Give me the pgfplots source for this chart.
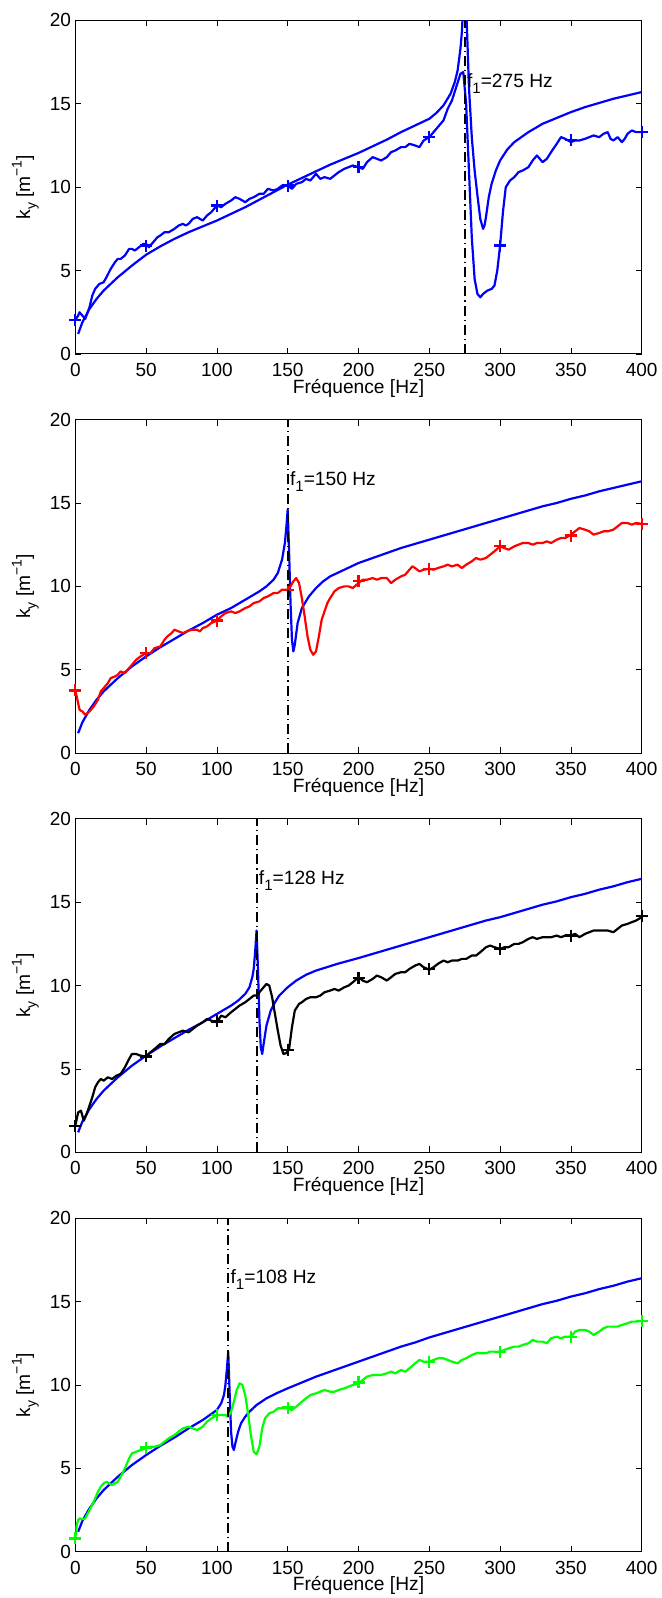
\documentclass[border=0pt]{standalone}
\usepackage{fontspec}
\setmainfont{Liberation Sans}
\usepackage{pgfplots}
\pgfplotsset{compat=1.18}

\pgfplotsset{
  myax/.style={
    scale only axis,
    width=283.2pt, height=166.8pt,
    anchor=south west,
    xmin=0, xmax=400, ymin=0, ymax=20,
    xtick={0,50,...,400}, ytick={0,5,...,20},
    tick align=inside,
    major tick length=3pt,
    every tick/.style={black, line width=0.4pt},
    axis line style={line width=0.5pt},
    /pgf/number format/assume math mode=true,
    tick label style={font=\fontsize{9.5}{11}\selectfont},
    xticklabel style={anchor=center, yshift=-7.9pt},
    yticklabel style={anchor=east, inner sep=2pt},
    label style={font=\fontsize{9.6}{11}\selectfont},
    xlabel={Fréquence [Hz]},
    ylabel={k\raisebox{-0.55ex}{\fontsize{7}{8}\selectfont y} [m\raisebox{0.85ex}{\fontsize{7}{8}\selectfont −1}]},
    xlabel style={at={([yshift=-17pt]axis description cs:0.5,0)}, anchor=center},
    ylabel style={at={([xshift=-25pt]axis description cs:0,0.5)}, anchor=center},
    clip mode=individual,
  },
  model/.style={blue, line width=1.1pt, no markers, line join=round},
  meas/.style={line width=1.1pt, no markers, line join=round},
  pts/.style={only marks, mark=+, mark size=3pt, line width=1.1pt, clip=false},
  vline/.style={black, line width=1pt, dash pattern=on 5pt off 2pt on 0.6pt off 2pt, no markers},
}
\newcommand{\fone}[1]{f\raisebox{-0.6ex}{\fontsize{7.5}{8}\selectfont 1}=#1 Hz}

\begin{document}
\begin{tikzpicture}
\useasboundingbox (0,0) rectangle (331pt,799pt);

%================ Panel 1 ================
\begin{axis}[myax, at={(37.65pt,622.0pt)}]
\addplot[model] coordinates {
(2,1.2) (5,1.9) (10,2.7) (15,3.3) (20,3.8) (30,4.6) (40,5.3) (50,5.95) (60,6.45) (70,6.9)
(80,7.3) (90,7.65) (100,8.0) (110,8.4) (120,8.8) (130,9.25) (140,9.7) (150,10.15) (160,10.55)
(170,10.95) (180,11.35) (190,11.7) (200,12.05) (210,12.45) (220,12.85) (230,13.3) (240,13.7)
(250,14.1) (255,14.45) (260,14.9) (265,15.6) (268,16.3) (270,17.0) (272,18.3) (273,19.3) (274,21) (275,24)
(276,21) (278,16) (280,13) (282,11) (284,9.5) (286,8.1) (288,7.5) (289,7.7) (290,8.2) (292,9.4)
(294,10.2) (297,11.0) (300,11.6) (305,12.25) (310,12.7) (315,13.0) (320,13.3) (330,13.8) (340,14.15)
(350,14.5) (360,14.8) (370,15.05) (380,15.3) (390,15.5) (400,15.7)
};
\addplot[meas, blue] coordinates {
(0,2.05) (2,2.3) (3,2.5) (5,2.3) (7,2.1) (10,2.8) (12,3.5) (14,3.9) (17,4.2) (20,4.3) (22,4.6)
(25,5.1) (28,5.5) (30,5.7) (32,5.7) (35,5.9) (38,6.3) (40,6.3) (42,6.2) (45,6.4) (48,6.6) (50,6.6)
(52,6.4) (55,6.7) (58,7.0) (60,7.1) (63,7.3) (66,7.3) (70,7.5) (73,7.7) (76,7.8) (78,7.7) (80,7.8)
(83,8.1) (86,8.2) (88,8.1) (90,8.0) (93,8.3) (96,8.5) (100,8.9) (103,8.8) (106,9.0) (110,9.2)
(113,9.4) (116,9.3) (120,9.1) (123,9.3) (126,9.4) (130,9.6) (133,9.6) (136,9.9) (140,9.8) (143,9.9)
(146,10.1) (150,10.1) (153,9.9) (156,10.2) (160,10.3) (163,10.5) (166,10.4) (170,10.8) (173,10.5)
(176,10.6) (180,10.5) (183,10.7) (186,10.9) (190,11.1) (193,11.2) (196,11.3) (200,11.2) (203,11.1)
(206,11.5) (210,11.8) (213,11.7) (216,11.6) (220,11.8) (223,12.1) (226,12.2) (230,12.4) (233,12.4)
(236,12.6) (240,12.5) (243,12.4) (246,12.8) (250,13.0) (253,13.3) (256,13.6) (260,14.0) (263,14.7)
(266,15.2) (269,16.0) (272,16.8) (274,16.9) (276,15.0) (278,11.0) (280,7.0) (282,4.5) (284,3.6)
(286,3.4) (288,3.6) (291,3.8) (294,3.9) (296,4.1) (298,5.0) (300,6.5) (302,8.5) (304,10.0) (307,10.4)
(310,10.6) (313,10.9) (316,11.0) (320,11.2) (323,11.6) (326,11.9) (328,11.7) (330,11.5) (333,11.7)
(336,12.1) (340,12.6) (343,13.0) (346,12.9) (350,12.7) (353,12.8) (356,12.8) (360,12.9) (363,13.0)
(366,13.1) (370,13.0) (373,13.2) (376,13.3) (378,12.9) (380,12.8) (383,13.0) (386,12.7) (388,12.9)
(390,13.2) (393,13.4) (396,13.3) (400,13.3)
};
\addplot[pts, blue] coordinates {
(0,2.05) (50,6.5) (100,8.9) (150,10.1) (200,11.2) (250,13.0) (300,6.5) (350,12.85) (400,13.3)
};
\addplot[vline] coordinates {(275,0) (275,20)};
\node[anchor=west, inner sep=1pt, font=\fontsize{9.6}{11}\selectfont] at (axis cs:275,16.2) {\fone{275}};
\end{axis}

%================ Panel 2 ================
\begin{axis}[myax, at={(37.65pt,422.4pt)}]
\addplot[model] coordinates {
(2,1.2) (5,1.85) (10,2.6) (15,3.2) (20,3.7) (30,4.5) (40,5.2) (50,5.8) (60,6.35) (70,6.85) (80,7.35)
(90,7.8) (100,8.3) (110,8.7) (120,9.2) (130,9.7) (135,10.0) (140,10.4) (143,10.8) (146,11.6)
(148,12.6) (149,13.5) (150,14.6) (151,12.0) (152,9.0) (153,6.8) (154,6.1) (155,6.5) (157,7.8)
(160,8.7) (165,9.4) (170,9.9) (175,10.3) (180,10.6) (190,11.0) (200,11.4) (210,11.7) (220,12.0)
(230,12.3) (240,12.55) (250,12.8) (260,13.05) (270,13.3) (280,13.55) (290,13.8) (300,14.05)
(310,14.3) (320,14.55) (330,14.8) (340,15.0) (350,15.25) (360,15.45) (370,15.7) (380,15.9)
(390,16.1) (400,16.3)
};
\addplot[meas, red] coordinates {
(0,3.8) (2,3.0) (3,2.6) (5,2.5) (7,2.3) (10,2.5) (13,2.8) (16,3.2) (18,3.7) (20,3.9) (23,4.2) (25,4.5)
(28,4.6) (30,4.7) (32,4.9) (35,4.8) (38,5.1) (40,5.3) (43,5.6) (46,5.8) (50,6.0) (53,6.0) (56,6.3)
(60,6.4) (63,6.8) (65,7.0) (68,7.2) (70,7.4) (73,7.3) (76,7.2) (80,7.35) (83,7.4) (86,7.4) (88,7.3)
(90,7.5) (93,7.6) (96,7.8) (100,7.95) (103,8.2) (106,8.4) (110,8.5) (113,8.4) (116,8.5) (120,8.7)
(123,8.8) (126,9.0) (130,9.1) (133,9.3) (136,9.4) (140,9.6) (143,9.6) (146,9.8) (150,9.8) (152,10.0)
(154,10.3) (156,10.5) (158,10.2) (160,9.3) (162,8.2) (164,7.0) (166,6.2) (168,5.9) (170,6.1) (172,7.0)
(174,8.0) (176,8.5) (178,9.0) (180,9.3) (183,9.7) (186,9.9) (190,10.0) (193,10.0) (196,9.9) (200,10.2)
(203,10.4) (206,10.4) (210,10.5) (213,10.4) (216,10.5) (220,10.5) (223,10.2) (226,10.4) (230,10.6)
(233,10.7) (236,11.0) (238,11.2) (240,11.1) (243,10.9) (246,11.0) (250,11.05) (253,11.0) (256,11.1)
(260,11.2) (263,11.3) (266,11.2) (270,11.3) (273,11.1) (276,11.3) (280,11.5) (283,11.7) (286,11.6)
(290,11.7) (293,11.9) (296,12.1) (300,12.4) (303,12.3) (306,12.2) (310,12.4) (313,12.5) (316,12.6)
(320,12.6) (323,12.5) (326,12.6) (330,12.6) (333,12.7) (336,12.6) (340,12.8) (343,12.9) (346,12.9)
(350,13.1) (353,13.3) (356,13.5) (360,13.4) (363,13.3) (366,13.1) (370,13.2) (373,13.3) (376,13.3)
(380,13.4) (383,13.6) (386,13.8) (390,13.8) (393,13.7) (396,13.8) (400,13.75)
};
\addplot[pts, red] coordinates {
(0,3.76) (50,6.0) (100,7.95) (150,9.8) (200,10.3) (250,11.05) (300,12.4) (350,13.05) (400,13.75)
};
\addplot[vline] coordinates {(150,0) (150,20)};
\node[anchor=west, inner sep=1pt, font=\fontsize{9.6}{11}\selectfont] at (axis cs:150,16.3) {\fone{150}};
\end{axis}

%================ Panel 3 ================
\begin{axis}[myax, at={(37.65pt,222.8pt)}]
\addplot[model] coordinates {
(2,1.2) (5,1.85) (10,2.6) (15,3.2) (20,3.7) (30,4.5) (40,5.2) (50,5.8) (60,6.35) (70,6.85) (80,7.35)
(90,7.8) (100,8.3) (110,8.8) (115,9.1) (120,9.5) (123,9.9) (125,10.5) (126,11.0) (127,12.0)
(128,13.3) (129,11.0) (130,8.0) (131,6.3) (132,5.9) (133,6.5) (135,7.6) (138,8.5) (141,9.0) (144,9.4)
(150,9.9) (156,10.3) (163,10.65) (170,10.9) (185,11.3) (200,11.65) (210,11.9) (220,12.15)
(230,12.4) (240,12.65) (250,12.9) (260,13.15) (270,13.4) (280,13.65) (290,13.9) (300,14.1)
(310,14.35) (320,14.6) (330,14.85) (340,15.05) (350,15.3) (360,15.5) (370,15.75) (380,15.95)
(390,16.2) (400,16.4)
};
\addplot[meas, black] coordinates {
(0,1.6) (1,2.0) (2,2.4) (4,2.5) (5,2.2) (6,1.9) (8,2.3) (10,2.8) (12,3.3) (14,3.9) (16,4.2) (18,4.4)
(20,4.3) (23,4.5) (26,4.4) (29,4.6) (32,4.7) (35,5.1) (38,5.6) (40,5.9) (43,5.9) (46,5.8) (50,5.75)
(53,6.0) (56,6.2) (60,6.5) (63,6.5) (66,6.8) (70,7.1) (73,7.2) (76,7.3) (80,7.2) (83,7.4) (86,7.6)
(90,7.8) (93,8.0) (96,7.9) (100,7.8) (103,8.2) (106,8.1) (110,8.4) (113,8.6) (116,8.8) (120,9.0)
(123,9.2) (126,9.4) (128,9.4) (130,9.6) (133,9.9) (135,10.1) (137,10.0) (139,9.3) (141,8.3) (143,7.3)
(145,6.4) (147,5.9) (149,5.95) (151,6.2) (153,7.5) (155,8.5) (158,8.9) (160,9.0) (163,9.2) (166,9.3)
(170,9.3) (173,9.4) (176,9.6) (180,9.7) (183,9.8) (186,9.7) (190,9.9) (193,10.0) (196,10.2) (200,10.5)
(203,10.3) (206,10.2) (210,10.4) (213,10.6) (216,10.5) (220,10.3) (223,10.5) (226,10.7) (230,10.8)
(233,10.8) (236,11.0) (240,11.2) (243,11.3) (246,11.1) (250,10.95) (253,11.1) (256,11.3) (260,11.5)
(263,11.4) (266,11.5) (270,11.5) (273,11.6) (276,11.6) (280,11.8) (283,11.8) (286,12.0) (290,12.3)
(293,12.4) (296,12.3) (300,12.2) (303,12.3) (306,12.3) (310,12.5) (313,12.5) (316,12.6) (320,12.8)
(323,12.9) (326,12.8) (330,12.9) (333,12.9) (336,12.9) (340,13.0) (343,12.9) (346,13.0) (350,13.0)
(353,13.1) (356,12.9) (360,13.1) (363,13.2) (366,13.3) (370,13.3) (373,13.3) (376,13.3) (380,13.2)
(383,13.4) (386,13.6) (390,13.7) (393,13.8) (396,13.9) (400,14.1)
};
\addplot[pts, black] coordinates {
(0,1.6) (50,5.75) (100,7.85) (150,6.15) (200,10.45) (250,11.0) (300,12.2) (350,13.0) (400,14.15)
};
\addplot[vline] coordinates {(128,0) (128,20)};
\node[anchor=west, inner sep=1pt, font=\fontsize{9.6}{11}\selectfont] at (axis cs:128,16.3) {\fone{128}};
\end{axis}

%================ Panel 4 ================
\begin{axis}[myax, at={(37.65pt,23.1pt)}]
\addplot[model] coordinates {
(2,1.2) (5,1.85) (10,2.6) (15,3.2) (20,3.7) (30,4.5) (40,5.2) (50,5.8) (60,6.35) (70,6.85) (80,7.4)
(90,7.9) (95,8.2) (100,8.5) (103,8.9) (105,9.4) (106,10.0) (107,10.9) (108,12.0) (109,9.5) (110,7.2)
(111,6.3) (112,6.1) (113,6.5) (115,7.2) (117,7.7) (120,8.1) (123,8.4) (128,8.8) (135,9.2) (142,9.5)
(150,9.8) (160,10.15) (170,10.5) (180,10.8) (190,11.1) (200,11.4) (210,11.7) (220,12.0) (230,12.3)
(240,12.55) (250,12.85) (260,13.1) (270,13.35) (280,13.6) (290,13.85) (300,14.1) (310,14.35)
(320,14.6) (330,14.85) (340,15.05) (350,15.3) (360,15.5) (370,15.75) (380,15.95) (390,16.2) (400,16.4)
};
\addplot[meas, green] coordinates {
(0,0.8) (1,1.6) (2,1.9) (3,2.0) (5,1.95) (7,2.0) (10,2.5) (13,3.0) (16,3.6) (18,3.9) (20,4.1) (22,4.2)
(24,4.1) (26,4.0) (28,4.1) (30,4.2) (32,4.5) (35,5.0) (38,5.6) (40,5.9) (43,6.0) (46,6.1) (50,6.2)
(53,6.3) (56,6.3) (60,6.4) (63,6.6) (66,6.8) (70,7.0) (73,7.2) (76,7.4) (80,7.5) (83,7.4) (86,7.3)
(90,7.5) (93,7.8) (96,8.0) (100,8.2) (103,8.2) (106,8.2) (108,8.1) (110,8.4) (112,9.0) (114,9.7)
(116,10.1) (118,10.0) (120,9.4) (122,8.3) (124,7.0) (126,6.0) (128,5.85) (130,6.3) (132,7.4) (134,8.0)
(137,8.3) (140,8.4) (143,8.6) (146,8.6) (150,8.6) (153,8.5) (156,8.7) (160,9.0) (163,9.2) (166,9.4)
(170,9.5) (173,9.6) (176,9.7) (180,9.6) (183,9.6) (186,9.7) (190,9.8) (193,9.9) (196,10.0) (200,10.1)
(203,10.3) (206,10.5) (210,10.6) (213,10.6) (216,10.6) (220,10.7) (223,10.8) (226,10.7) (230,10.9)
(233,10.8) (236,11.0) (240,11.3) (243,11.5) (246,11.4) (250,11.4) (253,11.5) (256,11.6) (260,11.6)
(263,11.5) (266,11.4) (270,11.3) (273,11.5) (276,11.6) (280,11.8) (283,11.9) (286,11.9) (290,11.9)
(293,12.0) (296,12.0) (300,12.0) (303,12.1) (306,12.2) (310,12.3) (313,12.3) (316,12.4) (320,12.5)
(323,12.7) (326,12.6) (330,12.6) (333,12.5) (336,12.8) (340,12.9) (343,12.8) (346,12.9) (350,12.9)
(353,13.2) (356,13.3) (360,13.3) (363,13.2) (366,13.0) (370,13.2) (373,13.4) (376,13.5) (380,13.5)
(383,13.5) (386,13.6) (390,13.7) (393,13.8) (396,13.8) (400,13.85)
};
\addplot[pts, green] coordinates {
(0,0.8) (50,6.25) (100,8.2) (150,8.65) (200,10.15) (250,11.4) (300,12.0) (350,12.9) (400,13.85)
};
\addplot[vline] coordinates {(108,0) (108,20)};
\node[anchor=west, inner sep=1pt, font=\fontsize{9.6}{11}\selectfont] at (axis cs:108,16.3) {\fone{108}};
\end{axis}
\end{tikzpicture}
\end{document}
